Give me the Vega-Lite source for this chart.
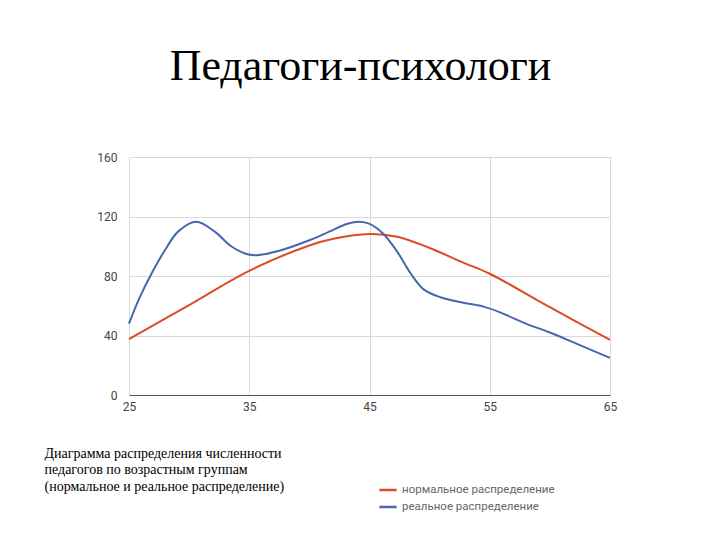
{
  "$schema": "https://vega.github.io/schema/vega-lite/v6.json",
  "width": 481,
  "height": 238,
  "autosize": {"type": "none"},
  "padding": {"left": 129, "top": 157, "right": 110, "bottom": 145},
  "background": "white",
  "config": {"view": {"stroke": null}},
  "title": {
    "text": "Педагоги-психологи",
    "font": "Liberation Serif",
    "fontSize": 44,
    "fontWeight": "normal",
    "color": "#000000",
    "anchor": "middle",
    "offset": 62,
    "dx": -9
  },
  "data": {
    "values": [
      {"age": 25, "value": 37.5, "series": "нормальное распределение"},
      {"age": 30, "value": 60.5, "series": "нормальное распределение"},
      {"age": 35, "value": 83.5, "series": "нормальное распределение"},
      {"age": 40, "value": 100.5, "series": "нормальное распределение"},
      {"age": 42, "value": 105, "series": "нормальное распределение"},
      {"age": 45, "value": 108.2, "series": "нормальное распределение"},
      {"age": 47.3, "value": 106.4, "series": "нормальное распределение"},
      {"age": 50, "value": 98.8, "series": "нормальное распределение"},
      {"age": 52.8, "value": 89, "series": "нормальное распределение"},
      {"age": 55, "value": 81.5, "series": "нормальное распределение"},
      {"age": 60, "value": 59, "series": "нормальное распределение"},
      {"age": 65, "value": 37, "series": "нормальное распределение"},
      {"age": 25, "value": 48, "series": "реальное распределение"},
      {"age": 25.8, "value": 64, "series": "реальное распределение"},
      {"age": 26.9, "value": 82, "series": "реальное распределение"},
      {"age": 28, "value": 97.5, "series": "реальное распределение"},
      {"age": 29.1, "value": 110, "series": "реальное распределение"},
      {"age": 30.6, "value": 116.5, "series": "реальное распределение"},
      {"age": 32.1, "value": 110, "series": "реальное распределение"},
      {"age": 33.5, "value": 100, "series": "реальное распределение"},
      {"age": 34.7, "value": 95, "series": "реальное распределение"},
      {"age": 35.6, "value": 94, "series": "реальное распределение"},
      {"age": 37.5, "value": 97, "series": "реальное распределение"},
      {"age": 40, "value": 104, "series": "реальное распределение"},
      {"age": 41.7, "value": 110, "series": "реальное распределение"},
      {"age": 43.1, "value": 115, "series": "реальное распределение"},
      {"age": 44.2, "value": 116.5, "series": "реальное распределение"},
      {"age": 45, "value": 115, "series": "реальное распределение"},
      {"age": 46.1, "value": 108.7, "series": "реальное распределение"},
      {"age": 47.3, "value": 96.4, "series": "реальное распределение"},
      {"age": 48.4, "value": 82, "series": "реальное распределение"},
      {"age": 49.5, "value": 71, "series": "реальное распределение"},
      {"age": 50.9, "value": 65.7, "series": "реальное распределение"},
      {"age": 52.8, "value": 62, "series": "реальное распределение"},
      {"age": 54.5, "value": 59.4, "series": "реальное распределение"},
      {"age": 55.9, "value": 55.4, "series": "реальное распределение"},
      {"age": 58, "value": 48, "series": "реальное распределение"},
      {"age": 60, "value": 42, "series": "реальное распределение"},
      {"age": 62.5, "value": 33.5, "series": "реальное распределение"},
      {"age": 65, "value": 25, "series": "реальное распределение"}
    ]
  },
  "mark": {"type": "line", "interpolate": "catmull-rom", "strokeWidth": 2},
  "encoding": {
    "x": {
      "field": "age",
      "type": "quantitative",
      "scale": {"domain": [25, 65], "nice": false, "zero": false},
      "axis": {
        "values": [25, 35, 45, 55, 65],
        "grid": true,
        "gridColor": "#d9d9d9",
        "ticks": false,
        "domain": true,
        "domainColor": "#555555",
        "labelColor": "#444444",
        "labelFont": "Roboto",
        "labelFontSize": 12,
        "labelFlush": false,
        "labelPadding": 6,
        "title": [
          "Диаграмма распределения численности",
          "педагогов по возрастным группам",
          "(нормальное и реальное распределение)"
        ],
        "titleFont": "Liberation Serif",
        "titleFontSize": 14,
        "titleFontWeight": "normal",
        "titleColor": "#000000",
        "titleAlign": "left",
        "titleAnchor": "start",
        "titleBaseline": "top",
        "titleX": -85,
        "titleY": 51,
        "titleLineHeight": 16.5
      }
    },
    "y": {
      "field": "value",
      "type": "quantitative",
      "scale": {"domain": [0, 160], "nice": false},
      "axis": {
        "values": [0, 40, 80, 120, 160],
        "grid": true,
        "gridColor": "#d9d9d9",
        "ticks": false,
        "domain": false,
        "labelColor": "#444444",
        "labelFont": "Roboto",
        "labelFontSize": 12,
        "labelPadding": 12,
        "title": null
      }
    },
    "color": {
      "field": "series",
      "type": "nominal",
      "scale": {
        "domain": ["нормальное распределение", "реальное распределение"],
        "range": ["#dc4a26", "#4468b0"]
      },
      "legend": {
        "orient": "none",
        "legendX": 249,
        "legendY": 323,
        "title": null,
        "symbolType": "stroke",
        "symbolStrokeWidth": 2.5,
        "symbolSize": 300,
        "labelFont": "Roboto",
        "labelFontSize": 11.5,
        "labelColor": "#666666",
        "rowPadding": 1
      }
    }
  }
}
